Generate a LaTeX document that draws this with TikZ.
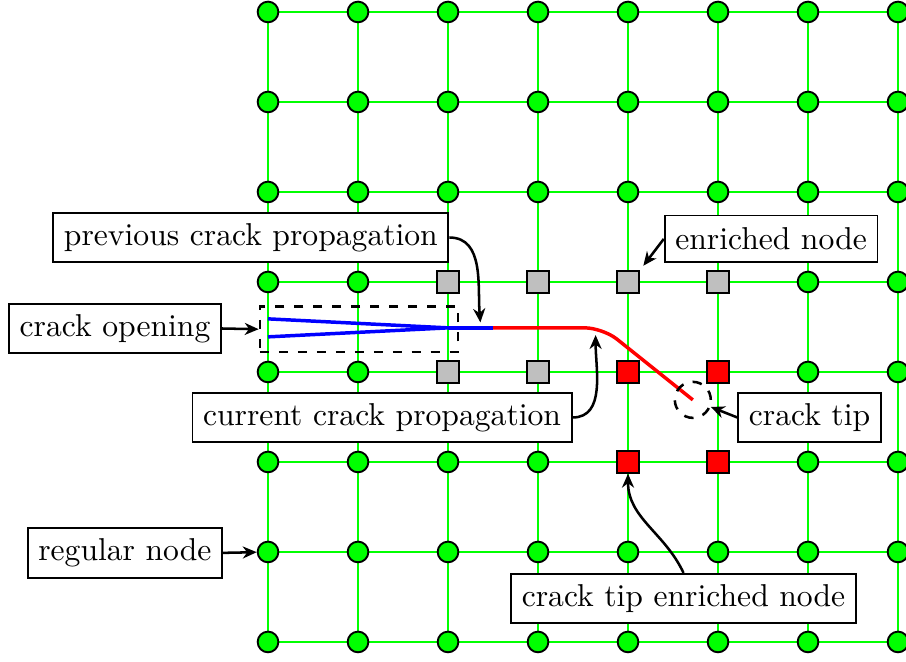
\documentclass[tikz,border=0pt]{standalone}
\usepackage{amsmath, amssymb}
\usetikzlibrary{shapes, arrows, arrows.meta, calc, positioning}
\tikzstyle{arrow} = [thick, ->, >={Stealth[length=4.4pt, width=3.8pt, inset=1.4pt]}]
\tikzstyle{mesh} = [green, semithick]
\tikzstyle{regnode} = [circle, draw=black, semithick, fill=green, inner sep=0pt, minimum size=0.23cm]
\tikzstyle{enrnode} = [rectangle, draw=black, semithick, fill=black!25, inner sep=0pt, minimum size=0.24cm]
\tikzstyle{tipnode} = [rectangle, draw=black, semithick, fill=red, inner sep=0pt, minimum size=0.24cm]
\tikzstyle{infobox} = [rectangle, draw=black, semithick, fill=white, minimum height=0.52cm]

\begin{document}
\begin{tikzpicture}
                    \useasboundingbox (-2.978, -0.222) rectangle (7.089, 7.133);
                    \foreach \i in {0,...,7} {
                        \draw[mesh] (\i, 0) -- (\i, 7);
                        \draw[mesh] (0, \i) -- (7, \i);
                    }
                    \foreach \i in {0,...,7} {
                        \foreach \j in {0,...,7} {
                            \pgfmathtruncatemacro{\kind}{(\i>=4 && \i<=5 && \j>=2 && \j<=3) ? 2 : (((\i>=2 && \i<=5 && \j==4) || (\i>=2 && \i<=3 && \j==3)) ? 1 : 0)}
                            \ifcase\kind
                                \node[regnode] (n-\i-\j) at (\i, \j) {};
                            \or
                                \node[enrnode] (n-\i-\j) at (\i, \j) {};
                            \or
                                \node[tipnode] (n-\i-\j) at (\i, \j) {};
                            \fi
                        }
                    }
                    \draw[blue, line width=1.1pt, line join=round] (0, 3.59) -- (2, 3.49) -- (0, 3.39);
                    \draw[blue, line width=1.1pt] (2, 3.49) -- (2.5, 3.49);
                    \draw[red, line width=1.1pt, rounded corners=0.2cm] (2.5, 3.49) -- (3.72, 3.49) -- (4.72, 2.69);
                    \node[draw=black, dashed, thick, minimum width=2.2cm, minimum height=0.51cm] (zone) at (1.01, 3.475) {};
                    \node[circle, draw=black, dashed, thick, minimum size=0.4cm] (tipzone) at (4.72, 2.69) {};
                    \coordinate (prevtip) at (2.36, 3.55);
                    \coordinate (curtip) at (3.64, 3.41);
                    \coordinate (enrtip) at (4.17, 4.18);
                    \node[infobox] (prev) at (-0.19, 4.494) {previous crack propagation};
                    \node[infobox] (enr) at (5.59, 4.478) {enriched node};
                    \node[infobox] (open) at (-1.7, 3.483) {crack opening};
                    \node[infobox] (cur) at (1.267, 2.494) {current crack propagation};
                    \node[infobox] (tipbox) at (6.017, 2.494) {crack tip};
                    \node[infobox] (reg) at (-1.59, 0.99) {regular node};
                    \node[infobox] (tipenr) at (4.617, 0.483) {crack tip enriched node};
                    \draw[arrow] (prev.east) to[out=0, in=95] (prevtip);
                    \draw[arrow] (enr.west) -- (enrtip);
                    \draw[arrow] (open.east) -- (zone.west);
                    \draw[arrow] (cur.east) to[out=0, in=-90] (curtip);
                    \draw[arrow] (tipbox.west) -- (tipzone);
                    \draw[arrow] (reg.east) -- (n-0-1);
                    \draw[arrow] (tipenr.north) to[out=115, in=-90] (n-4-2);
                \end{tikzpicture}
\end{document}
